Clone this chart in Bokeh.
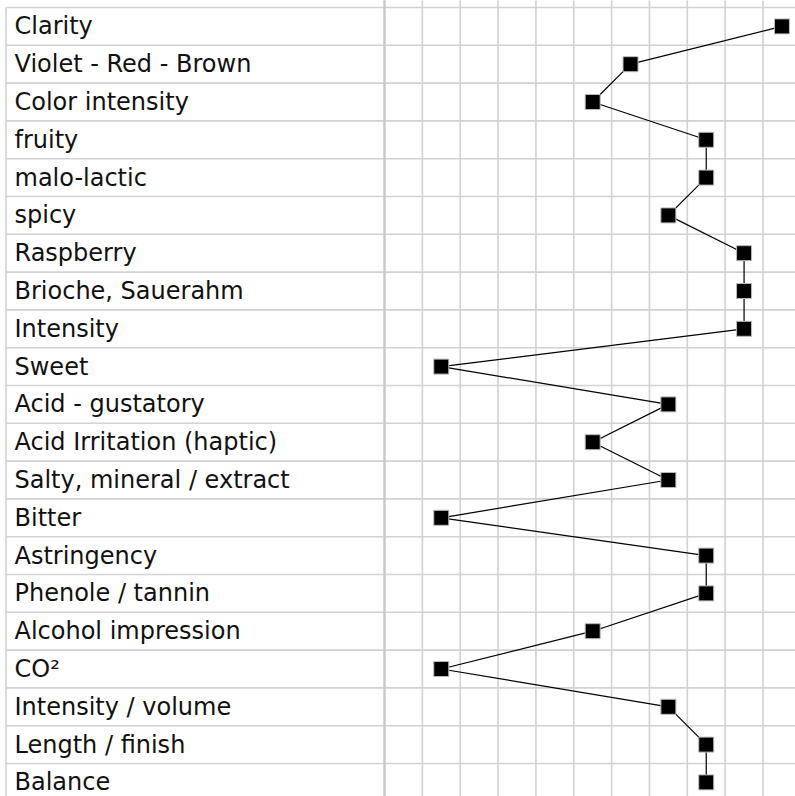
from bokeh.plotting import figure
from bokeh.models import Range1d
from bokeh.core.properties import value
from bokeh.embed import file_html
from bokeh.resources import INLINE

# ---- data ----
labels = ["Clarity", "Violet - Red - Brown", "Color intensity", "fruity", "malo-lactic",
          "spicy", "Raspberry", "Brioche, Sauerahm", "Intensity", "Sweet",
          "Acid - gustatory", "Acid Irritation (haptic)", "Salty, mineral / extract",
          "Bitter", "Astringency", "Phenole / tannin", "Alcohol impression", "CO²",
          "Intensity / volume", "Length / finish", "Balance"]
scores = [11, 7, 6, 9, 9, 8, 10, 10, 10, 2, 8, 6, 8, 2, 9, 9, 6, 2, 8, 9, 9]
n_cols = 11

# ---- layout (pixel geometry of the picture) ----
CELL_X = 37.85
CELL_Y = 37.8
GRID_LEFT = 384.0
TOP = 7.0
W, H = 795, 796

def px_to_x(px):
    return (px - GRID_LEFT) / CELL_X + 0.5

def py_to_r(py):
    return (py - TOP) / CELL_Y - 0.5

rows = list(range(len(labels)))

p = figure(width=W, height=H, output_backend="svg", toolbar_location=None,
           x_range=Range1d(px_to_x(0), px_to_x(W)),
           y_range=Range1d(py_to_r(H), py_to_r(0)),
           min_border=0)
p.axis.visible = False
p.grid.visible = False
p.outline_line_color = None
p.background_fill_color = "white"
p.border_fill_color = "white"

grid_color = "#d2d2d2"
x_left = px_to_x(5.5)
x_right = px_to_x(900)
y_top = py_to_r(-10)
y_bot = py_to_r(900)

# horizontal row lines (full width)
hl = [r - 0.5 for r in range(len(labels) + 1)]
p.segment(x0=[x_left] * len(hl), x1=[x_right] * len(hl), y0=hl, y1=hl,
          line_color=grid_color, line_width=1.6)

# vertical grid lines
vl = [k + 0.5 for k in range(0, n_cols + 1)]
p.segment(x0=vl, x1=vl, y0=[y_top] * len(vl), y1=[y_bot] * len(vl),
          line_color=grid_color, line_width=1.6)
# divider between label column and grid, and left border
p.segment(x0=[0.5], x1=[0.5], y0=[y_top], y1=[y_bot], line_color="#c8c8c8", line_width=2.2)
p.segment(x0=[x_left], x1=[x_left], y0=[-0.5], y1=[y_bot], line_color=grid_color, line_width=1.6)

# labels
p.text(x=[px_to_x(14)] * len(labels), y=rows, text=labels,
       text_font=value("DejaVu Sans"), text_font_size="24px",
       text_align="left", text_baseline="middle", text_color="#111111")

# profile line and markers
p.line(x=scores, y=rows, line_color="black", line_width=1.2)
p.scatter(x=scores, y=rows, marker="square", size=15, fill_color="black",
          line_color="#bbbbbb", line_width=1)

open("out.html", "w").write(file_html(p, INLINE))
